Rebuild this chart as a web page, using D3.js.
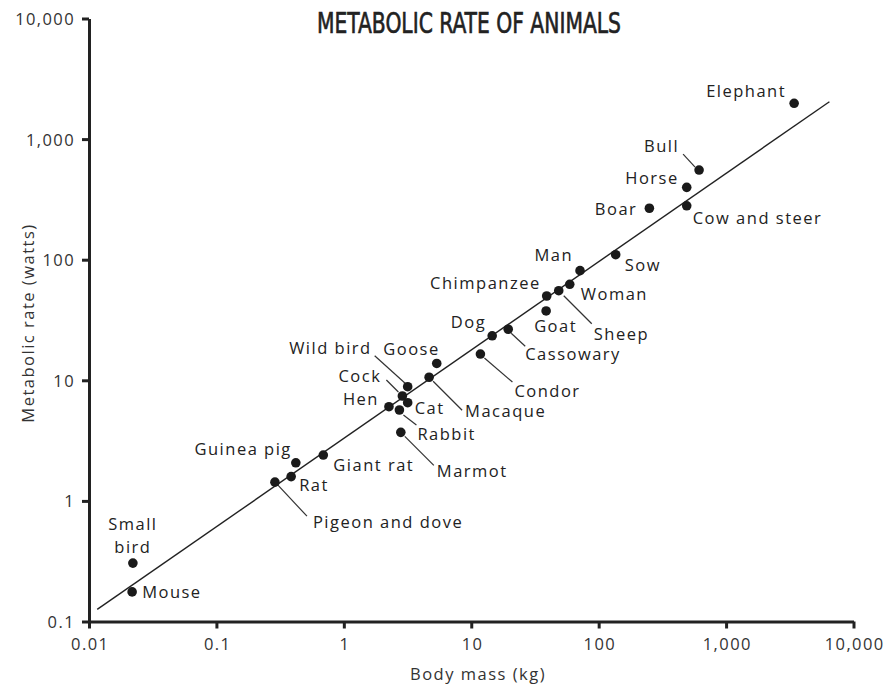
<!DOCTYPE html>
<html>
<head>
<meta charset="utf-8">
<script src="https://cdn.jsdelivr.net/npm/d3@7"></script>
<style>
  html, body { margin: 0; padding: 0; background: #fff; }
  svg { display: block; }
  .lbl { font-family: "Open Sans", sans-serif; font-size: 16.5px; fill: #222; letter-spacing: 1.5px; }
  .tick text { font-family: "Open Sans", sans-serif; font-size: 16.5px; fill: #333; letter-spacing: 1.4px; }
</style>
</head>
<body>
<script>
// Body mass (kg) and resting metabolic rate (watts) for each animal
const animals = ["Elephant","Bull","Horse","Boar","Cow and steer","Sow","Man","Woman","Chimpanzee",
  "Goat","Sheep","Dog","Cassowary","Condor","Goose","Wild bird","Macaque","Cock","Cat","Hen",
  "Rabbit","Marmot","Giant rat","Guinea pig","Rat","Pigeon and dove","Small bird","Mouse"];
const massKg = [3420, 614, 491, 250, 491, 136, 71.4, 59.3, 39.1,
  38.7, 48.6, 14.6, 19.5, 11.8, 5.36, 3.17, 4.67, 2.88, 3.17, 2.26,
  2.73, 2.8, 0.69, 0.42, 0.386, 0.288, 0.0221, 0.0218];
const rateW = [1982, 554, 398, 267, 280, 110, 81.1, 62.5, 50,
  37.6, 55.3, 23.4, 26.5, 16.5, 13.8, 8.85, 10.6, 7.41, 6.52, 6.04,
  5.67, 3.7, 2.4, 2.07, 1.59, 1.43, 0.305, 0.176];

// Fitted power-law line (endpoints in data units)
const fitMass = [0.0116, 6470];
const fitRate = [0.126, 2042];

// Axis ticks
const xTicks = [0.01, 0.1, 1, 10, 100, 1000, 10000];
const xTickLabels = ["0.01", "0.1", "1", "10", "100", "1,000", "10,000"];
const yTicks = [0.1, 1, 10, 100, 1000, 10000];
const yTickLabels = ["0.1", "1", "10", "100", "1,000", "10,000"];

// Label placement relative to each dot: anchor, text offset, optional leader line
const labelLayout = {
  "Elephant":       {a: "end",   dx: -8,  dy: -6},
  "Bull":           {a: "end",   dx: -20, dy: -18, line: [-16, -16, -4, -3]},
  "Horse":          {a: "end",   dx: -8,  dy: -3},
  "Boar":           {a: "end",   dx: -12, dy: 7},
  "Cow and steer":  {a: "start", dx: 6,   dy: 18},
  "Sow":            {a: "start", dx: 9,   dy: 16},
  "Man":            {a: "end",   dx: -7,  dy: -10},
  "Woman":          {a: "start", dx: 11,  dy: 16},
  "Chimpanzee":     {a: "end",   dx: -6,  dy: -7},
  "Goat":           {a: "start", dx: -12, dy: 21},
  "Sheep":          {a: "start", dx: 35,  dy: 49, line: [5, 5, 33, 33]},
  "Dog":            {a: "end",   dx: -6,  dy: -8},
  "Cassowary":      {a: "start", dx: 17,  dy: 31, line: [3, 4, 17, 17]},
  "Condor":         {a: "start", dx: 34,  dy: 43, line: [4, 4, 32, 28]},
  "Goose":          {a: "end",   dx: 3,   dy: -8},
  "Wild bird":      {a: "end",   dx: -36, dy: -33, line: [-33, -31, -2, -3]},
  "Macaque":        {a: "start", dx: 36,  dy: 40, line: [4, 4, 33, 33]},
  "Cock":           {a: "end",   dx: -21, dy: -14, line: [-16, -16, -4, -4]},
  "Cat":            {a: "start", dx: 7,   dy: 11},
  "Hen":            {a: "end",   dx: -10, dy: -2},
  "Rabbit":         {a: "start", dx: 18,  dy: 30, line: [4, 5, 17, 15]},
  "Marmot":         {a: "start", dx: 36,  dy: 45, line: [4, 4, 33, 33]},
  "Giant rat":      {a: "start", dx: 10,  dy: 16},
  "Guinea pig":     {a: "end",   dx: -4,  dy: -8},
  "Rat":            {a: "start", dx: 8,   dy: 14},
  "Pigeon and dove":{a: "start", dx: 38,  dy: 46, line: [3, 3, 32, 34]},
  "Small bird":     {a: "middle", dx: 0,  dy: -33, lines: ["Small", "bird"], lh: 22.6},
  "Mouse":          {a: "start", dx: 10,  dy: 6}
};

const W = 886, H = 687;
const svg = d3.select("body").append("svg").attr("width", W).attr("height", H);

const x = d3.scaleLog().domain([0.01, 10000]).range([89, 853.5]);
const y = d3.scaleLog().domain([0.1, 10000]).range([621.5, 18.5]);

// Title
svg.append("text")
  .attr("x", 469).attr("y", 33)
  .attr("text-anchor", "middle")
  .attr("textLength", 304).attr("lengthAdjust", "spacingAndGlyphs")
  .style("font-family", "'Liberation Sans Narrow', 'DejaVu Sans Condensed', sans-serif")
  .style("font-weight", "normal").style("font-size", "27.5px")
  .style("fill", "#222").style("stroke", "#222").style("stroke-width", "0.6px")
  .text("METABOLIC RATE OF ANIMALS");

// Axes
const yAxis = d3.axisLeft(y).tickValues(yTicks)
  .tickFormat((d, i) => yTickLabels[i]).tickSizeInner(7).tickSizeOuter(0).tickPadding(7);
const xAxis = d3.axisBottom(x).tickValues(xTicks)
  .tickFormat((d, i) => xTickLabels[i]).tickSizeInner(7).tickSizeOuter(0).tickPadding(10);

const gy = svg.append("g").attr("transform", "translate(89,0)").call(yAxis);
const gx = svg.append("g").attr("transform", "translate(0,621.5)").call(xAxis);
[gx, gy].forEach(g => {
  g.select(".domain").attr("stroke", "#222").attr("stroke-width", 3);
  g.selectAll(".tick line").attr("stroke", "#222").attr("stroke-width", 3);
  g.attr("font-family", null).attr("font-size", null);
});
gy.selectAll(".tick text").attr("dy", "0.36em");
gx.selectAll(".tick text").attr("dx", "0.7px");

// Axis titles
svg.append("text").attr("class", "lbl")
  .attr("transform", "translate(34,323) rotate(-90)")
  .attr("text-anchor", "middle").style("fill", "#333")
  .text("Metabolic rate (watts)");
svg.append("text").attr("class", "lbl")
  .attr("x", 478).attr("y", 680)
  .attr("text-anchor", "middle").style("fill", "#333")
  .text("Body mass (kg)");

// Fitted line
svg.append("line")
  .attr("x1", x(fitMass[0])).attr("y1", y(fitRate[0]))
  .attr("x2", x(fitMass[1])).attr("y2", y(fitRate[1]))
  .attr("stroke", "#222").attr("stroke-width", 1.4);

const data = animals.map((name, i) => ({name, m: massKg[i], r: rateW[i]}));

// Leader lines
const leaders = svg.append("g");
data.forEach(d => {
  const L = labelLayout[d.name];
  if (!L.line) return;
  const cx = x(d.m), cy = y(d.r);
  leaders.append("line")
    .attr("x1", cx + L.line[0]).attr("y1", cy + L.line[1])
    .attr("x2", cx + L.line[2]).attr("y2", cy + L.line[3])
    .attr("stroke", "#333").attr("stroke-width", 1.2);
});

// Dots
svg.append("g").selectAll("circle").data(data).join("circle")
  .attr("cx", d => x(d.m)).attr("cy", d => y(d.r)).attr("r", 4.8)
  .attr("fill", "#1a1a1a");

// Labels (multi-line names become one text element per line)
const labels = svg.append("g");
data.forEach(d => {
  const L = labelLayout[d.name];
  const cx = x(d.m), cy = y(d.r);
  const lines = L.lines || [d.name];
  lines.forEach((s, k) => labels.append("text").attr("class", "lbl")
    .attr("text-anchor", L.a)
    .attr("x", cx + L.dx).attr("y", cy + L.dy + k * (L.lh || 0))
    .text(s));
});
</script>
</body>
</html>
